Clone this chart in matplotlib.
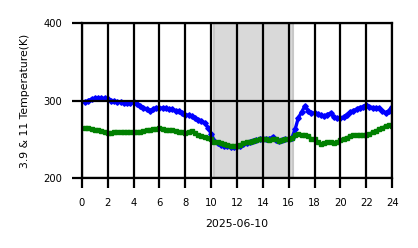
import matplotlib
matplotlib.use("Agg")
import matplotlib.pyplot as plt
import numpy as np

hours = [0.25 * i for i in range(1, 97)]
blue_39 = [298, 300, 302, 303, 303, 303, 303, 302, 300, 299, 298, 298, 297, 297, 297, 298,
           295, 293, 291, 289, 287, 289, 291, 291, 290, 290, 289, 289, 287, 286, 284, 282,
           281, 280, 278, 275, 274, 271, 265, 257, 248, 245, 243, 242, 241, 240, 240, 241,
           242, 244, 245, 247, 248, 249, 250, 250, 251, 250, 253, 249, 248, 249, 250, 251,
           252, 263, 278, 285, 293, 287, 284, 284, 283, 281, 280, 282, 284, 279, 277, 277,
           279, 282, 285, 287, 289, 291, 292, 294, 292, 291, 291, 290, 287, 284, 287, 292]
green_11 = [265, 264, 263, 262, 262, 261, 260, 258, 258, 259, 259, 259, 259, 259, 259, 260,
            259, 260, 261, 262, 262, 263, 263, 264, 263, 262, 262, 262, 261, 260, 259, 258,
            260, 261, 258, 255, 254, 253, 252, 250, 247, 246, 245, 244, 243, 242, 242, 241,
            243, 245, 246, 247, 248, 249, 250, 251, 250, 249, 250, 251, 248, 249, 250, 251,
            252, 255, 257, 256, 255, 254, 251, 250, 246, 244, 245, 246, 246, 245, 246, 249,
            251, 252, 254, 255, 256, 256, 256, 256, 257, 259, 261, 263, 265, 267, 268, 267]
shade_start, shade_end = 10.2, 16.3
xticks = list(range(0, 25, 2))
yticks = [200, 300, 400]

fig = plt.figure(figsize=(4.18, 2.48), dpi=100)
ax = fig.add_axes([0.196, 0.282, 0.742, 0.625])
ax.axvspan(shade_start, shade_end, facecolor='#d9d9d9', edgecolor='#c8c8c8', linewidth=1.5, zorder=0)
ax.plot(hours, blue_39, color='blue', lw=2.4, marker='D', ms=2.8, zorder=1.5)
ax.plot(hours, green_11, color='green', lw=2.2, marker='s', ms=2.4, zorder=1.6)
ax.set_xlim(0, 24)
ax.set_ylim(200, 400)
ax.set_xticks(xticks)
ax.set_yticks(yticks)
ax.grid(True, color='black', linewidth=1.6, zorder=2.5)
ax.set_axisbelow(False)
for s in ax.spines.values():
    s.set_linewidth(1.6)
    s.set_zorder(3)
ax.tick_params(axis='both', direction='out', length=7, width=1.6, pad=7, labelsize=7.2)
ax.set_xlabel('2025-06-10', fontsize=7.8, labelpad=8)
ax.set_ylabel('3.9 & 11 Temperature(K)', fontsize=7.8, labelpad=10)
fig.savefig('out.png', dpi=100)
